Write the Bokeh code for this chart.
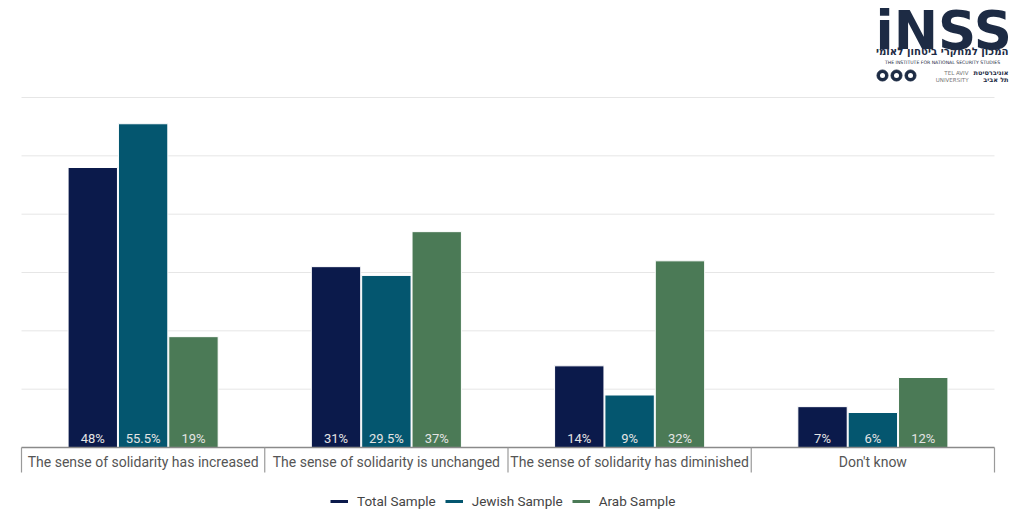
import numpy as np
from bokeh.plotting import figure
from bokeh.models import ColumnDataSource, Range1d, Legend, LegendItem
from bokeh.core.properties import value
from bokeh.embed import file_html
from bokeh.resources import INLINE

# ---- data ----
categories = ["The sense of solidarity has increased",
              "The sense of solidarity is unchanged",
              "The sense of solidarity has diminished",
              "Don't know"]
series_names = ["Total Sample", "Jewish Sample", "Arab Sample"]
total_sample = [48, 31, 14, 7]
jewish_sample = [55.5, 29.5, 9, 6]
arab_sample = [19, 37, 32, 12]
grid_ticks = [10, 20, 30, 40, 50, 60]

# ---- style ----
colors = ["#0b1a4b", "#04566f", "#4b7a56"]
offsets = [-0.207, 0.0, 0.207]
bar_width = 0.203
FONT = "Roboto"

W, H = 1016, 519
px_per_x = 243.25
px_per_y = 350 / 60.0
x0_screen, y0_screen = 21, 447


def sx(px):
    return (px - x0_screen) / px_per_x


def sy(py):
    return (y0_screen - py) / px_per_y


p = figure(width=W, height=H, output_backend="svg", toolbar_location=None,
           x_range=Range1d(sx(0), sx(W)), y_range=Range1d(sy(H), sy(0)),
           x_axis_location=None, y_axis_location=None, min_border=0,
           background_fill_color="white", border_fill_color="white")
p.outline_line_color = None
p.xgrid.visible = False
p.ygrid.visible = False

n = len(categories)
idx = np.arange(n)

# grid lines
p.segment(x0=[0] * len(grid_ticks), x1=[n] * len(grid_ticks), y0=grid_ticks, y1=grid_ticks,
          line_color="#e6e6e6", line_width=1)

series = [total_sample, jewish_sample, arab_sample]
renderers = []
for vals, col, off, name in zip(series, colors, offsets, series_names):
    src = ColumnDataSource(dict(x=idx + 0.5 + off, top=vals,
                                lab=[f"{v:g}%" for v in vals]))
    p.vbar(x="x", top="top", bottom=0, width=bar_width, source=src,
           fill_color=col, line_color="white", line_width=1)
    p.text(x="x", y=0, text="lab", source=src, text_align="center",
           text_baseline="bottom", y_offset=-2, text_font=value(FONT),
           text_font_size="13px", text_color="#e4e4e4")
    renderers.append(p.line(x=[-50, -49], y=[-500, -500], line_color=col, line_width=3))

# axis line and category separators
p.segment(x0=[0], x1=[n], y0=[0], y1=[0], line_color="#8a8a8a", line_width=1.5)
p.segment(x0=list(range(n + 1)), x1=list(range(n + 1)), y0=[0] * (n + 1),
          y1=[sy(472)] * (n + 1), line_color="#9a9a9a", line_width=1.2)
p.text(x=idx + 0.5, y=[sy(461)] * n, text=categories, text_align="center",
       text_baseline="middle", text_font=value(FONT), text_font_size="14px",
       text_color="#555555")

# legend
legend = Legend(items=[LegendItem(label=nm, renderers=[r]) for nm, r in zip(series_names, renderers)],
                orientation="horizontal", location=(330, 8), padding=0, margin=0,
                glyph_width=18, glyph_height=20, label_height=20, label_standoff=9,
                spacing=9, border_line_color=None, background_fill_alpha=0,
                label_text_font=FONT, label_text_font_size="13.5px", label_text_color="#444444")
p.add_layout(legend, "center")

# INSS logo (decoration)
navy = "#1d2b44"
p.text(x=[sx(875)], y=[sy(30)], text=["iNSS"], text_font=value("DejaVu Sans"),
       text_font_style="bold", text_font_size="53px", text_color=navy,
       text_baseline="alphabetic", text_align="left")
p.text(x=[sx(1008)], y=[sy(51)], text=["המכון למחקרי ביטחון לאומי"], text_font=value("DejaVu Sans"),
       text_font_style="bold", text_font_size="10.2px", text_color=navy,
       text_baseline="middle", text_align="right")
p.text(x=[sx(942)], y=[sy(62)], text=["THE INSTITUTE FOR NATIONAL SECURITY STUDIES"],
       text_font=value("DejaVu Sans"), text_font_size="4.6px", text_color=navy,
       text_baseline="middle", text_align="center")
p.scatter(x=[sx(882), sx(896), sx(910)], y=[sy(75)] * 3, size=11, marker="circle",
          fill_color=navy, line_color=navy)
p.scatter(x=[sx(882), sx(896), sx(910)], y=[sy(75)] * 3, size=5, marker="circle",
          fill_color="white", line_color=None)
p.text(x=[sx(968)] * 2, y=[sy(72), sy(79)], text=["TEL AVIV", "UNIVERSITY"],
       text_font=value("DejaVu Sans"), text_font_size="5.5px", text_color="#777777",
       text_baseline="middle", text_align="right")
p.text(x=[sx(1008)] * 2, y=[sy(72), sy(79)], text=["אוניברסיטת", "תל אביב"],
       text_font=value("DejaVu Sans"), text_font_style="bold", text_font_size="6.5px",
       text_color=navy, text_baseline="middle", text_align="right")

open("out.html", "w").write(file_html(p, INLINE))
